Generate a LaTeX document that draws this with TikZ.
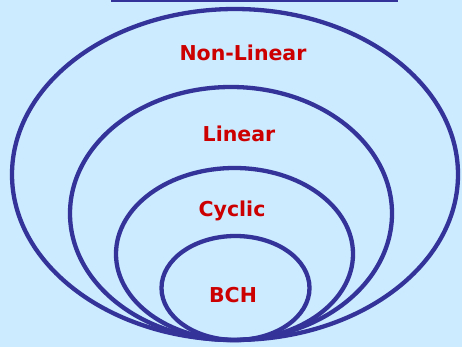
\documentclass[tikz,border=0pt]{standalone}
\usepackage{fontspec}
\setmainfont{DejaVu Sans}
\usetikzlibrary{shapes.geometric}
\definecolor{bg}{HTML}{CCEBFF}
\definecolor{ringblue}{HTML}{333399}
\definecolor{lblred}{HTML}{CC0000}
\begin{document}
\begin{tikzpicture}[x=1pt,y=-1pt,
  ring/.style={ellipse, draw=ringblue, line width=4.3pt, inner sep=0pt},
  setlabel/.style={text=lblred, font=\bfseries\fontsize{20.5}{24}\selectfont, inner sep=0pt}]
  % canvas
  \fill[bg] (0,0) rectangle (462,347);
  \useasboundingbox (0,0) rectangle (462,347);
  % title rule
  \coordinate (ruleL) at (111,0.8);
  \coordinate (ruleR) at (398,0.8);
  \draw[ringblue, line width=1.6pt] (ruleL) -- (ruleR);
  % nested code classes
  \node[ring, minimum width=446pt, minimum height=331pt] (nonlinear) at (235,174.5) {};
  \node[ring, minimum width=322pt, minimum height=253pt] (linear) at (231,213.5) {};
  \node[ring, minimum width=237pt, minimum height=172pt] (cyclic) at (234.5,254) {};
  \node[ring, minimum width=148pt, minimum height=104pt] (bch) at (235.5,288) {};
  % class names
  \node[setlabel] (tNL) at (243,52.5) {Non-Linear};
  \node[setlabel] (tL) at (239,134) {Linear};
  \node[setlabel] (tC) at (232,211) {Cyclic};
  \node[setlabel] (tB) at (233,295) {BCH};
\end{tikzpicture}
\end{document}
